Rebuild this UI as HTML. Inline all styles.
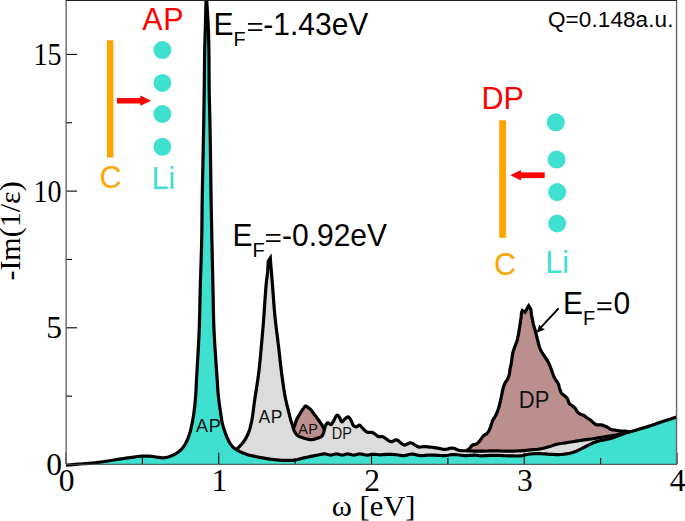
<!DOCTYPE html>
<html><head><meta charset="utf-8"><style>
html,body{margin:0;padding:0;background:#fff;}
svg{display:block;}
text{font-kerning:none;font-feature-settings:"kern" 0;}
.s{font-family:"Liberation Sans",sans-serif;}
.r{font-family:"Liberation Serif",serif;}
</style></head><body>
<svg width="685" height="521" viewBox="0 0 685 521">
<defs><clipPath id="cp"><rect x="66" y="0" width="611" height="467"/></clipPath><clipPath id="cf"><rect x="66" y="0" width="611" height="464.6"/></clipPath></defs>
<g clip-path="url(#cp)">
<path d="M280.00,452.00 L280.84,451.22 L281.68,450.49 L282.52,449.76 L283.35,448.98 L284.18,448.08 L285.00,447.00 L286.35,444.64 L287.75,441.61 L289.12,438.28 L290.41,435.00 L291.56,432.12 L292.50,430.00 L292.82,429.40 L293.10,428.94 L293.36,428.54 L293.60,428.15 L293.85,427.72 L294.10,427.20 L294.49,426.20 L294.85,425.05 L295.22,423.80 L295.60,422.50 L296.02,421.22 L296.50,420.00 L297.07,418.79 L297.71,417.57 L298.38,416.37 L299.07,415.19 L299.75,414.06 L300.40,413.00 L300.90,412.18 L301.39,411.40 L301.87,410.64 L302.34,409.92 L302.82,409.24 L303.30,408.60 L303.68,408.08 L304.05,407.54 L304.43,407.03 L304.80,406.59 L305.19,406.26 L305.60,406.10 L305.98,406.12 L306.38,406.27 L306.79,406.51 L307.20,406.81 L307.61,407.12 L308.00,407.40 L308.39,407.66 L308.76,407.91 L309.13,408.18 L309.51,408.47 L309.89,408.81 L310.30,409.20 L311.02,409.99 L311.78,410.94 L312.58,412.00 L313.40,413.11 L314.21,414.23 L315.00,415.30 L315.79,416.34 L316.58,417.39 L317.38,418.44 L318.15,419.49 L318.90,420.51 L319.60,421.50 L320.16,422.30 L320.69,423.08 L321.21,423.85 L321.70,424.60 L322.16,425.35 L322.60,426.10 L322.94,426.75 L323.23,427.37 L323.51,427.99 L323.79,428.62 L324.11,429.28 L324.50,430.00 L325.17,431.22 L325.90,432.58 L326.72,434.02 L327.65,435.45 L328.74,436.81 L330.00,438.00 L331.87,439.30 L333.96,440.40 L336.30,441.38 L338.91,442.27 L341.80,443.12 L345.00,444.00 L352.10,445.62 L360.65,447.12 L370.19,448.51 L380.23,449.78 L390.33,450.95 L400.00,452.00 L410.12,453.21 L420.99,454.59 L431.91,455.86 L442.18,456.71 L451.11,456.86 L458.00,456.00 L460.46,455.14 L462.61,453.99 L464.48,452.69 L466.07,451.37 L467.40,450.16 L468.50,449.20 L468.88,448.88 L469.19,448.59 L469.45,448.32 L469.68,448.06 L469.92,447.79 L470.20,447.50 L470.55,447.11 L470.90,446.68 L471.25,446.24 L471.63,445.82 L472.04,445.43 L472.50,445.10 L473.09,444.84 L473.75,444.68 L474.45,444.57 L475.17,444.45 L475.86,444.28 L476.50,444.00 L477.14,443.56 L477.75,443.04 L478.33,442.45 L478.89,441.81 L479.45,441.15 L480.00,440.50 L480.58,439.77 L481.12,438.97 L481.66,438.16 L482.21,437.35 L482.78,436.59 L483.40,435.90 L484.05,435.36 L484.75,434.91 L485.48,434.49 L486.21,434.07 L486.89,433.58 L487.50,433.00 L488.10,432.21 L488.63,431.32 L489.11,430.36 L489.55,429.35 L489.98,428.32 L490.40,427.30 L490.82,426.18 L491.19,425.00 L491.54,423.80 L491.89,422.61 L492.27,421.47 L492.70,420.40 L493.13,419.56 L493.59,418.79 L494.07,418.04 L494.56,417.30 L495.04,416.53 L495.50,415.70 L496.02,414.64 L496.54,413.52 L497.04,412.36 L497.53,411.17 L497.98,409.98 L498.40,408.80 L498.76,407.66 L499.09,406.51 L499.38,405.36 L499.66,404.21 L499.93,403.05 L500.20,401.90 L500.48,400.72 L500.75,399.50 L501.01,398.28 L501.26,397.10 L501.50,395.99 L501.70,395.00 L501.82,394.42 L501.91,393.90 L502.00,393.41 L502.09,392.93 L502.19,392.44 L502.30,391.90 L502.45,391.18 L502.61,390.43 L502.78,389.65 L502.97,388.86 L503.17,388.07 L503.40,387.30 L503.65,386.52 L503.92,385.73 L504.21,384.94 L504.52,384.17 L504.85,383.42 L505.20,382.70 L505.56,382.08 L505.95,381.51 L506.36,380.95 L506.76,380.39 L507.15,379.82 L507.50,379.20 L507.84,378.49 L508.16,377.75 L508.45,376.99 L508.73,376.21 L508.97,375.42 L509.20,374.60 L509.40,373.68 L509.56,372.72 L509.69,371.75 L509.81,370.76 L509.94,369.77 L510.10,368.80 L510.29,367.85 L510.49,366.90 L510.71,365.95 L510.92,365.00 L511.12,364.05 L511.30,363.10 L511.45,362.14 L511.59,361.17 L511.71,360.20 L511.83,359.23 L511.95,358.27 L512.10,357.30 L512.26,356.33 L512.41,355.36 L512.58,354.39 L512.76,353.42 L512.96,352.46 L513.20,351.50 L513.48,350.55 L513.80,349.61 L514.14,348.67 L514.49,347.73 L514.85,346.78 L515.20,345.80 L515.58,344.73 L515.98,343.65 L516.38,342.57 L516.77,341.44 L517.15,340.26 L517.50,339.00 L517.91,337.21 L518.29,335.26 L518.65,333.22 L518.98,331.15 L519.29,329.12 L519.60,327.20 L519.87,325.57 L520.12,323.96 L520.37,322.38 L520.60,320.85 L520.81,319.39 L521.00,318.00 L521.12,316.97 L521.21,315.95 L521.28,314.98 L521.36,314.06 L521.46,313.23 L521.60,312.50 L521.70,312.12 L521.81,311.79 L521.93,311.48 L522.06,311.19 L522.18,310.90 L522.30,310.60 L525.00,312.20 L528.70,305.80 L529.03,306.32 L529.37,306.81 L529.71,307.31 L530.04,307.83 L530.34,308.39 L530.60,309.00 L530.86,309.90 L531.04,310.87 L531.17,311.92 L531.29,313.01 L531.42,314.15 L531.60,315.30 L531.88,316.83 L532.20,318.48 L532.53,320.19 L532.89,321.89 L533.24,323.51 L533.60,325.00 L533.88,326.03 L534.15,326.97 L534.44,327.87 L534.72,328.76 L535.01,329.69 L535.30,330.70 L535.66,332.06 L536.01,333.51 L536.36,335.01 L536.73,336.54 L537.10,338.08 L537.50,339.60 L537.92,341.21 L538.33,342.86 L538.76,344.51 L539.22,346.15 L539.73,347.72 L540.30,349.20 L540.87,350.42 L541.50,351.58 L542.16,352.69 L542.84,353.77 L543.53,354.84 L544.20,355.90 L544.84,356.89 L545.49,357.85 L546.15,358.79 L546.80,359.73 L547.42,360.70 L548.00,361.70 L548.55,362.77 L549.06,363.88 L549.54,365.00 L550.00,366.14 L550.45,367.27 L550.90,368.40 L551.33,369.52 L551.73,370.65 L552.13,371.79 L552.51,372.91 L552.90,373.99 L553.30,375.00 L553.62,375.78 L553.94,376.52 L554.25,377.22 L554.58,377.92 L554.92,378.61 L555.30,379.30 L555.75,380.02 L556.26,380.73 L556.79,381.43 L557.31,382.13 L557.79,382.85 L558.20,383.60 L558.51,384.37 L558.76,385.16 L558.96,385.97 L559.15,386.78 L559.36,387.60 L559.60,388.40 L559.87,389.23 L560.14,390.09 L560.42,390.94 L560.73,391.76 L561.08,392.53 L561.50,393.20 L561.92,393.69 L562.38,394.10 L562.88,394.47 L563.40,394.83 L563.91,395.20 L564.40,395.60 L564.90,396.04 L565.42,396.49 L565.93,396.94 L566.42,397.42 L566.88,397.94 L567.30,398.50 L567.68,399.23 L567.98,400.06 L568.24,400.93 L568.50,401.80 L568.81,402.61 L569.20,403.30 L569.62,403.79 L570.08,404.22 L570.58,404.60 L571.09,404.96 L571.60,405.32 L572.10,405.70 L572.59,406.09 L573.08,406.46 L573.58,406.83 L574.07,407.21 L574.54,407.63 L575.00,408.10 L575.49,408.75 L575.95,409.49 L576.39,410.29 L576.83,411.07 L577.29,411.79 L577.80,412.40 L578.25,412.81 L578.72,413.17 L579.20,413.50 L579.70,413.79 L580.20,414.05 L580.70,414.30 L581.17,414.50 L581.65,414.65 L582.13,414.77 L582.62,414.91 L583.11,415.07 L583.60,415.30 L584.23,415.69 L584.87,416.17 L585.52,416.71 L586.17,417.25 L586.80,417.76 L587.40,418.20 L587.85,418.48 L588.29,418.73 L588.72,418.95 L589.15,419.18 L589.57,419.42 L590.00,419.70 L590.48,420.07 L590.95,420.47 L591.42,420.90 L591.90,421.34 L592.39,421.78 L592.90,422.20 L593.47,422.67 L594.06,423.17 L594.67,423.67 L595.29,424.13 L595.93,424.52 L596.60,424.80 L597.30,424.93 L598.03,424.94 L598.79,424.88 L599.54,424.80 L600.29,424.76 L601.00,424.80 L601.63,424.92 L602.25,425.07 L602.86,425.26 L603.45,425.46 L604.03,425.68 L604.60,425.90 L605.10,426.11 L605.59,426.32 L606.06,426.55 L606.53,426.79 L607.01,427.04 L607.50,427.30 L608.09,427.65 L608.68,428.04 L609.29,428.45 L609.91,428.85 L610.55,429.21 L611.20,429.50 L611.88,429.70 L612.58,429.84 L613.29,429.94 L614.01,430.02 L614.75,430.10 L615.50,430.20 L616.33,430.34 L617.18,430.48 L618.05,430.63 L618.93,430.77 L619.81,430.90 L620.70,431.00 L621.62,431.05 L622.53,431.05 L623.45,431.03 L624.40,431.03 L625.41,431.11 L626.50,431.30 L628.35,431.86 L630.31,432.66 L632.41,433.63 L634.70,434.72 L637.21,435.87 L640.00,437.00 L645.96,439.15 L653.03,441.55 L660.84,444.12 L669.01,446.77 L677.19,449.43 L685.00,452.00 L685.00,470 L280.00,470 Z" fill="#bc8f8f" stroke="none" clip-path="url(#cf)"/>
<path d="M280.00,452.00 L280.84,451.22 L281.68,450.49 L282.52,449.76 L283.35,448.98 L284.18,448.08 L285.00,447.00 L286.35,444.64 L287.75,441.61 L289.12,438.28 L290.41,435.00 L291.56,432.12 L292.50,430.00 L292.82,429.40 L293.10,428.94 L293.36,428.54 L293.60,428.15 L293.85,427.72 L294.10,427.20 L294.49,426.20 L294.85,425.05 L295.22,423.80 L295.60,422.50 L296.02,421.22 L296.50,420.00 L297.07,418.79 L297.71,417.57 L298.38,416.37 L299.07,415.19 L299.75,414.06 L300.40,413.00 L300.90,412.18 L301.39,411.40 L301.87,410.64 L302.34,409.92 L302.82,409.24 L303.30,408.60 L303.68,408.08 L304.05,407.54 L304.43,407.03 L304.80,406.59 L305.19,406.26 L305.60,406.10 L305.98,406.12 L306.38,406.27 L306.79,406.51 L307.20,406.81 L307.61,407.12 L308.00,407.40 L308.39,407.66 L308.76,407.91 L309.13,408.18 L309.51,408.47 L309.89,408.81 L310.30,409.20 L311.02,409.99 L311.78,410.94 L312.58,412.00 L313.40,413.11 L314.21,414.23 L315.00,415.30 L315.79,416.34 L316.58,417.39 L317.38,418.44 L318.15,419.49 L318.90,420.51 L319.60,421.50 L320.16,422.30 L320.69,423.08 L321.21,423.85 L321.70,424.60 L322.16,425.35 L322.60,426.10 L322.94,426.75 L323.23,427.37 L323.51,427.99 L323.79,428.62 L324.11,429.28 L324.50,430.00 L325.17,431.22 L325.90,432.58 L326.72,434.02 L327.65,435.45 L328.74,436.81 L330.00,438.00 L331.87,439.30 L333.96,440.40 L336.30,441.38 L338.91,442.27 L341.80,443.12 L345.00,444.00 L352.10,445.62 L360.65,447.12 L370.19,448.51 L380.23,449.78 L390.33,450.95 L400.00,452.00 L410.12,453.21 L420.99,454.59 L431.91,455.86 L442.18,456.71 L451.11,456.86 L458.00,456.00 L460.46,455.14 L462.61,453.99 L464.48,452.69 L466.07,451.37 L467.40,450.16 L468.50,449.20 L468.88,448.88 L469.19,448.59 L469.45,448.32 L469.68,448.06 L469.92,447.79 L470.20,447.50 L470.55,447.11 L470.90,446.68 L471.25,446.24 L471.63,445.82 L472.04,445.43 L472.50,445.10 L473.09,444.84 L473.75,444.68 L474.45,444.57 L475.17,444.45 L475.86,444.28 L476.50,444.00 L477.14,443.56 L477.75,443.04 L478.33,442.45 L478.89,441.81 L479.45,441.15 L480.00,440.50 L480.58,439.77 L481.12,438.97 L481.66,438.16 L482.21,437.35 L482.78,436.59 L483.40,435.90 L484.05,435.36 L484.75,434.91 L485.48,434.49 L486.21,434.07 L486.89,433.58 L487.50,433.00 L488.10,432.21 L488.63,431.32 L489.11,430.36 L489.55,429.35 L489.98,428.32 L490.40,427.30 L490.82,426.18 L491.19,425.00 L491.54,423.80 L491.89,422.61 L492.27,421.47 L492.70,420.40 L493.13,419.56 L493.59,418.79 L494.07,418.04 L494.56,417.30 L495.04,416.53 L495.50,415.70 L496.02,414.64 L496.54,413.52 L497.04,412.36 L497.53,411.17 L497.98,409.98 L498.40,408.80 L498.76,407.66 L499.09,406.51 L499.38,405.36 L499.66,404.21 L499.93,403.05 L500.20,401.90 L500.48,400.72 L500.75,399.50 L501.01,398.28 L501.26,397.10 L501.50,395.99 L501.70,395.00 L501.82,394.42 L501.91,393.90 L502.00,393.41 L502.09,392.93 L502.19,392.44 L502.30,391.90 L502.45,391.18 L502.61,390.43 L502.78,389.65 L502.97,388.86 L503.17,388.07 L503.40,387.30 L503.65,386.52 L503.92,385.73 L504.21,384.94 L504.52,384.17 L504.85,383.42 L505.20,382.70 L505.56,382.08 L505.95,381.51 L506.36,380.95 L506.76,380.39 L507.15,379.82 L507.50,379.20 L507.84,378.49 L508.16,377.75 L508.45,376.99 L508.73,376.21 L508.97,375.42 L509.20,374.60 L509.40,373.68 L509.56,372.72 L509.69,371.75 L509.81,370.76 L509.94,369.77 L510.10,368.80 L510.29,367.85 L510.49,366.90 L510.71,365.95 L510.92,365.00 L511.12,364.05 L511.30,363.10 L511.45,362.14 L511.59,361.17 L511.71,360.20 L511.83,359.23 L511.95,358.27 L512.10,357.30 L512.26,356.33 L512.41,355.36 L512.58,354.39 L512.76,353.42 L512.96,352.46 L513.20,351.50 L513.48,350.55 L513.80,349.61 L514.14,348.67 L514.49,347.73 L514.85,346.78 L515.20,345.80 L515.58,344.73 L515.98,343.65 L516.38,342.57 L516.77,341.44 L517.15,340.26 L517.50,339.00 L517.91,337.21 L518.29,335.26 L518.65,333.22 L518.98,331.15 L519.29,329.12 L519.60,327.20 L519.87,325.57 L520.12,323.96 L520.37,322.38 L520.60,320.85 L520.81,319.39 L521.00,318.00 L521.12,316.97 L521.21,315.95 L521.28,314.98 L521.36,314.06 L521.46,313.23 L521.60,312.50 L521.70,312.12 L521.81,311.79 L521.93,311.48 L522.06,311.19 L522.18,310.90 L522.30,310.60 L525.00,312.20 L528.70,305.80 L529.03,306.32 L529.37,306.81 L529.71,307.31 L530.04,307.83 L530.34,308.39 L530.60,309.00 L530.86,309.90 L531.04,310.87 L531.17,311.92 L531.29,313.01 L531.42,314.15 L531.60,315.30 L531.88,316.83 L532.20,318.48 L532.53,320.19 L532.89,321.89 L533.24,323.51 L533.60,325.00 L533.88,326.03 L534.15,326.97 L534.44,327.87 L534.72,328.76 L535.01,329.69 L535.30,330.70 L535.66,332.06 L536.01,333.51 L536.36,335.01 L536.73,336.54 L537.10,338.08 L537.50,339.60 L537.92,341.21 L538.33,342.86 L538.76,344.51 L539.22,346.15 L539.73,347.72 L540.30,349.20 L540.87,350.42 L541.50,351.58 L542.16,352.69 L542.84,353.77 L543.53,354.84 L544.20,355.90 L544.84,356.89 L545.49,357.85 L546.15,358.79 L546.80,359.73 L547.42,360.70 L548.00,361.70 L548.55,362.77 L549.06,363.88 L549.54,365.00 L550.00,366.14 L550.45,367.27 L550.90,368.40 L551.33,369.52 L551.73,370.65 L552.13,371.79 L552.51,372.91 L552.90,373.99 L553.30,375.00 L553.62,375.78 L553.94,376.52 L554.25,377.22 L554.58,377.92 L554.92,378.61 L555.30,379.30 L555.75,380.02 L556.26,380.73 L556.79,381.43 L557.31,382.13 L557.79,382.85 L558.20,383.60 L558.51,384.37 L558.76,385.16 L558.96,385.97 L559.15,386.78 L559.36,387.60 L559.60,388.40 L559.87,389.23 L560.14,390.09 L560.42,390.94 L560.73,391.76 L561.08,392.53 L561.50,393.20 L561.92,393.69 L562.38,394.10 L562.88,394.47 L563.40,394.83 L563.91,395.20 L564.40,395.60 L564.90,396.04 L565.42,396.49 L565.93,396.94 L566.42,397.42 L566.88,397.94 L567.30,398.50 L567.68,399.23 L567.98,400.06 L568.24,400.93 L568.50,401.80 L568.81,402.61 L569.20,403.30 L569.62,403.79 L570.08,404.22 L570.58,404.60 L571.09,404.96 L571.60,405.32 L572.10,405.70 L572.59,406.09 L573.08,406.46 L573.58,406.83 L574.07,407.21 L574.54,407.63 L575.00,408.10 L575.49,408.75 L575.95,409.49 L576.39,410.29 L576.83,411.07 L577.29,411.79 L577.80,412.40 L578.25,412.81 L578.72,413.17 L579.20,413.50 L579.70,413.79 L580.20,414.05 L580.70,414.30 L581.17,414.50 L581.65,414.65 L582.13,414.77 L582.62,414.91 L583.11,415.07 L583.60,415.30 L584.23,415.69 L584.87,416.17 L585.52,416.71 L586.17,417.25 L586.80,417.76 L587.40,418.20 L587.85,418.48 L588.29,418.73 L588.72,418.95 L589.15,419.18 L589.57,419.42 L590.00,419.70 L590.48,420.07 L590.95,420.47 L591.42,420.90 L591.90,421.34 L592.39,421.78 L592.90,422.20 L593.47,422.67 L594.06,423.17 L594.67,423.67 L595.29,424.13 L595.93,424.52 L596.60,424.80 L597.30,424.93 L598.03,424.94 L598.79,424.88 L599.54,424.80 L600.29,424.76 L601.00,424.80 L601.63,424.92 L602.25,425.07 L602.86,425.26 L603.45,425.46 L604.03,425.68 L604.60,425.90 L605.10,426.11 L605.59,426.32 L606.06,426.55 L606.53,426.79 L607.01,427.04 L607.50,427.30 L608.09,427.65 L608.68,428.04 L609.29,428.45 L609.91,428.85 L610.55,429.21 L611.20,429.50 L611.88,429.70 L612.58,429.84 L613.29,429.94 L614.01,430.02 L614.75,430.10 L615.50,430.20 L616.33,430.34 L617.18,430.48 L618.05,430.63 L618.93,430.77 L619.81,430.90 L620.70,431.00 L621.62,431.05 L622.53,431.05 L623.45,431.03 L624.40,431.03 L625.41,431.11 L626.50,431.30 L628.35,431.86 L630.31,432.66 L632.41,433.63 L634.70,434.72 L637.21,435.87 L640.00,437.00 L645.96,439.15 L653.03,441.55 L660.84,444.12 L669.01,446.77 L677.19,449.43 L685.00,452.00" fill="none" stroke="#000" stroke-width="3.2" stroke-linejoin="miter" stroke-miterlimit="6"/>
<path d="M222.00,458.00 L222.84,457.94 L223.68,457.91 L224.52,457.89 L225.36,457.83 L226.19,457.71 L227.00,457.50 L227.87,457.17 L228.73,456.75 L229.57,456.26 L230.41,455.71 L231.22,455.12 L232.00,454.50 L232.79,453.78 L233.54,452.99 L234.26,452.16 L234.97,451.28 L235.71,450.39 L236.50,449.50 L237.50,448.46 L238.57,447.39 L239.66,446.31 L240.76,445.19 L241.81,444.02 L242.80,442.80 L243.77,441.46 L244.71,440.07 L245.61,438.63 L246.46,437.14 L247.26,435.60 L248.00,434.00 L248.73,432.18 L249.38,430.31 L249.96,428.38 L250.49,426.36 L251.00,424.24 L251.50,422.00 L252.11,418.83 L252.64,415.43 L253.13,411.85 L253.60,408.15 L254.08,404.38 L254.60,400.60 L255.25,396.31 L255.94,391.89 L256.65,387.40 L257.34,382.85 L258.00,378.31 L258.60,373.80 L259.13,369.32 L259.61,364.84 L260.06,360.36 L260.48,355.87 L260.89,351.39 L261.30,346.90 L261.71,342.46 L262.10,338.07 L262.48,333.67 L262.86,329.23 L263.23,324.69 L263.60,320.00 L264.02,314.24 L264.44,308.04 L264.86,301.72 L265.28,295.58 L265.69,289.90 L266.10,285.00 L266.36,282.45 L266.63,280.16 L266.90,278.04 L267.16,276.02 L267.39,274.03 L267.60,272.00 L267.75,270.12 L267.88,268.27 L267.99,266.44 L268.09,264.63 L268.19,262.82 L268.30,261.00 L270.30,258.00 L270.48,260.34 L270.67,262.69 L270.85,265.03 L271.03,267.37 L271.21,269.70 L271.40,272.00 L271.58,274.13 L271.75,276.17 L271.93,278.20 L272.11,280.29 L272.30,282.53 L272.50,285.00 L272.82,289.28 L273.16,294.07 L273.52,299.20 L273.91,304.51 L274.33,309.83 L274.80,315.00 L275.34,320.16 L275.94,325.36 L276.58,330.58 L277.24,335.77 L277.89,340.93 L278.50,346.00 L279.05,350.76 L279.57,355.52 L280.10,360.23 L280.62,364.87 L281.15,369.40 L281.70,373.80 L282.21,377.62 L282.73,381.46 L283.26,385.22 L283.79,388.80 L284.31,392.09 L284.80,395.00 L285.09,396.56 L285.37,397.95 L285.64,399.24 L285.92,400.48 L286.20,401.71 L286.50,403.00 L286.82,404.35 L287.15,405.70 L287.48,407.05 L287.82,408.40 L288.16,409.75 L288.50,411.10 L288.83,412.46 L289.16,413.84 L289.48,415.21 L289.82,416.58 L290.15,417.91 L290.50,419.20 L290.82,420.32 L291.15,421.41 L291.49,422.49 L291.83,423.54 L292.17,424.58 L292.50,425.60 L292.79,426.54 L293.05,427.47 L293.31,428.38 L293.59,429.28 L293.92,430.15 L294.30,431.00 L294.73,431.82 L295.20,432.65 L295.70,433.45 L296.25,434.21 L296.85,434.90 L297.50,435.50 L298.20,435.99 L298.96,436.39 L299.76,436.73 L300.60,437.03 L301.45,437.31 L302.30,437.60 L303.23,437.92 L304.19,438.23 L305.17,438.52 L306.15,438.78 L307.10,439.01 L308.00,439.20 L308.68,439.33 L309.34,439.44 L309.97,439.54 L310.60,439.60 L311.24,439.62 L311.90,439.60 L312.68,439.51 L313.47,439.35 L314.28,439.15 L315.09,438.91 L315.90,438.66 L316.70,438.40 L317.54,438.15 L318.41,437.89 L319.28,437.61 L320.11,437.30 L320.86,436.94 L321.50,436.50 L321.94,436.07 L322.31,435.59 L322.63,435.07 L322.91,434.53 L323.16,433.97 L323.40,433.40 L323.62,432.79 L323.80,432.15 L323.95,431.49 L324.09,430.83 L324.23,430.16 L324.40,429.50 L324.58,428.82 L324.74,428.13 L324.92,427.44 L325.11,426.76 L325.33,426.11 L325.60,425.50 L325.88,424.95 L326.19,424.38 L326.52,423.83 L326.89,423.35 L327.28,422.99 L327.70,422.80 L328.19,422.87 L328.75,423.20 L329.33,423.66 L329.92,424.12 L330.48,424.44 L331.00,424.50 L331.51,424.23 L331.97,423.74 L332.41,423.07 L332.83,422.32 L333.25,421.54 L333.70,420.80 L334.26,419.82 L334.82,418.65 L335.39,417.44 L335.96,416.36 L336.53,415.56 L337.10,415.20 L337.51,415.26 L337.92,415.51 L338.33,415.91 L338.74,416.39 L339.13,416.90 L339.50,417.40 L339.91,418.12 L340.29,419.02 L340.64,419.97 L340.99,420.84 L341.37,421.50 L341.80,421.80 L342.21,421.73 L342.63,421.42 L343.08,420.95 L343.54,420.40 L344.02,419.86 L344.50,419.40 L345.04,418.92 L345.62,418.36 L346.21,417.81 L346.79,417.33 L347.36,417.00 L347.90,416.90 L348.37,417.03 L348.81,417.33 L349.25,417.75 L349.67,418.27 L350.08,418.83 L350.50,419.40 L351.08,420.39 L351.62,421.62 L352.15,422.95 L352.69,424.24 L353.26,425.34 L353.90,426.10 L354.32,426.39 L354.77,426.60 L355.23,426.75 L355.69,426.83 L356.15,426.84 L356.60,426.80 L357.06,426.62 L357.52,426.28 L357.97,425.87 L358.42,425.48 L358.86,425.19 L359.30,425.10 L359.75,425.24 L360.19,425.55 L360.61,425.98 L361.05,426.48 L361.51,427.00 L362.00,427.50 L362.72,428.23 L363.48,429.08 L364.28,429.97 L365.12,430.82 L365.99,431.56 L366.90,432.10 L367.79,432.36 L368.73,432.43 L369.71,432.39 L370.69,432.35 L371.66,432.39 L372.60,432.60 L373.60,433.09 L374.57,433.78 L375.53,434.56 L376.49,435.35 L377.44,436.03 L378.40,436.50 L379.19,436.69 L379.98,436.73 L380.76,436.70 L381.55,436.67 L382.36,436.71 L383.20,436.90 L384.42,437.51 L385.70,438.43 L387.02,439.48 L388.34,440.50 L389.65,441.30 L390.90,441.70 L391.90,441.62 L392.90,441.26 L393.89,440.75 L394.85,440.24 L395.76,439.87 L396.60,439.80 L397.23,439.99 L397.81,440.33 L398.35,440.76 L398.88,441.25 L399.42,441.75 L400.00,442.20 L400.67,442.72 L401.35,443.32 L402.04,443.92 L402.75,444.46 L403.51,444.88 L404.30,445.10 L405.28,445.00 L406.33,444.57 L407.43,443.98 L408.55,443.37 L409.68,442.93 L410.80,442.80 L412.05,443.13 L413.33,443.83 L414.61,444.72 L415.90,445.64 L417.16,446.42 L418.40,446.90 L419.37,447.03 L420.29,447.01 L421.20,446.90 L422.13,446.75 L423.12,446.63 L424.20,446.60 L425.93,446.68 L427.85,446.84 L429.88,447.04 L431.95,447.28 L433.98,447.54 L435.90,447.80 L437.53,448.08 L439.13,448.42 L440.70,448.78 L442.24,449.10 L443.74,449.33 L445.20,449.40 L446.43,449.27 L447.61,448.99 L448.77,448.63 L449.91,448.29 L451.05,448.05 L452.20,448.00 L453.37,448.20 L454.51,448.59 L455.66,449.08 L456.81,449.60 L457.99,450.07 L459.20,450.40 L460.49,450.59 L461.79,450.70 L463.11,450.74 L464.48,450.75 L465.90,450.76 L467.40,450.80 L469.51,450.88 L471.78,450.97 L474.15,451.06 L476.56,451.13 L478.96,451.18 L481.30,451.20 L483.51,451.17 L485.69,451.09 L487.87,451.00 L490.04,450.90 L492.22,450.83 L494.40,450.80 L496.60,450.83 L498.80,450.90 L501.00,451.00 L503.20,451.10 L505.40,451.17 L507.60,451.20 L509.81,451.19 L512.05,451.15 L514.29,451.09 L516.50,451.02 L518.65,450.92 L520.70,450.80 L522.34,450.68 L523.90,450.54 L525.42,450.39 L526.93,450.22 L528.44,450.06 L530.00,449.90 L531.67,449.75 L533.37,449.63 L535.08,449.50 L536.79,449.35 L538.50,449.16 L540.20,448.90 L541.94,448.56 L543.71,448.15 L545.47,447.70 L547.20,447.22 L548.85,446.75 L550.40,446.30 L551.51,445.96 L552.54,445.61 L553.52,445.26 L554.49,444.91 L555.51,444.59 L556.60,444.30 L558.02,443.99 L559.50,443.73 L561.05,443.49 L562.63,443.27 L564.22,443.04 L565.80,442.80 L567.47,442.53 L569.16,442.26 L570.87,442.00 L572.58,441.73 L574.29,441.46 L576.00,441.20 L577.70,440.94 L579.40,440.69 L581.10,440.44 L582.80,440.20 L584.50,439.95 L586.20,439.70 L587.90,439.45 L589.58,439.21 L591.27,438.96 L592.97,438.72 L594.68,438.46 L596.40,438.20 L598.25,437.91 L600.15,437.60 L602.06,437.29 L603.94,436.98 L605.77,436.68 L607.50,436.40 L608.84,436.19 L610.12,436.00 L611.37,435.81 L612.59,435.63 L613.79,435.42 L615.00,435.20 L616.16,434.95 L617.31,434.69 L618.44,434.41 L619.57,434.12 L620.69,433.85 L621.80,433.60 L622.82,433.36 L623.81,433.11 L624.79,432.88 L625.79,432.66 L626.85,432.50 L628.00,432.40 L629.74,432.36 L631.60,432.41 L633.58,432.54 L635.65,432.77 L637.80,433.09 L640.00,433.50 L643.03,434.26 L646.23,435.28 L649.55,436.45 L652.97,437.70 L656.47,438.91 L660.00,440.00 L663.99,441.07 L668.11,442.09 L672.31,443.08 L676.55,444.05 L680.80,445.01 L685.00,446.00 L685.00,470 L222.00,470 Z" fill="#dcdcdc" stroke="none" clip-path="url(#cf)"/>
<path d="M222.00,458.00 L222.84,457.94 L223.68,457.91 L224.52,457.89 L225.36,457.83 L226.19,457.71 L227.00,457.50 L227.87,457.17 L228.73,456.75 L229.57,456.26 L230.41,455.71 L231.22,455.12 L232.00,454.50 L232.79,453.78 L233.54,452.99 L234.26,452.16 L234.97,451.28 L235.71,450.39 L236.50,449.50 L237.50,448.46 L238.57,447.39 L239.66,446.31 L240.76,445.19 L241.81,444.02 L242.80,442.80 L243.77,441.46 L244.71,440.07 L245.61,438.63 L246.46,437.14 L247.26,435.60 L248.00,434.00 L248.73,432.18 L249.38,430.31 L249.96,428.38 L250.49,426.36 L251.00,424.24 L251.50,422.00 L252.11,418.83 L252.64,415.43 L253.13,411.85 L253.60,408.15 L254.08,404.38 L254.60,400.60 L255.25,396.31 L255.94,391.89 L256.65,387.40 L257.34,382.85 L258.00,378.31 L258.60,373.80 L259.13,369.32 L259.61,364.84 L260.06,360.36 L260.48,355.87 L260.89,351.39 L261.30,346.90 L261.71,342.46 L262.10,338.07 L262.48,333.67 L262.86,329.23 L263.23,324.69 L263.60,320.00 L264.02,314.24 L264.44,308.04 L264.86,301.72 L265.28,295.58 L265.69,289.90 L266.10,285.00 L266.36,282.45 L266.63,280.16 L266.90,278.04 L267.16,276.02 L267.39,274.03 L267.60,272.00 L267.75,270.12 L267.88,268.27 L267.99,266.44 L268.09,264.63 L268.19,262.82 L268.30,261.00 L270.30,258.00 L270.48,260.34 L270.67,262.69 L270.85,265.03 L271.03,267.37 L271.21,269.70 L271.40,272.00 L271.58,274.13 L271.75,276.17 L271.93,278.20 L272.11,280.29 L272.30,282.53 L272.50,285.00 L272.82,289.28 L273.16,294.07 L273.52,299.20 L273.91,304.51 L274.33,309.83 L274.80,315.00 L275.34,320.16 L275.94,325.36 L276.58,330.58 L277.24,335.77 L277.89,340.93 L278.50,346.00 L279.05,350.76 L279.57,355.52 L280.10,360.23 L280.62,364.87 L281.15,369.40 L281.70,373.80 L282.21,377.62 L282.73,381.46 L283.26,385.22 L283.79,388.80 L284.31,392.09 L284.80,395.00 L285.09,396.56 L285.37,397.95 L285.64,399.24 L285.92,400.48 L286.20,401.71 L286.50,403.00 L286.82,404.35 L287.15,405.70 L287.48,407.05 L287.82,408.40 L288.16,409.75 L288.50,411.10 L288.83,412.46 L289.16,413.84 L289.48,415.21 L289.82,416.58 L290.15,417.91 L290.50,419.20 L290.82,420.32 L291.15,421.41 L291.49,422.49 L291.83,423.54 L292.17,424.58 L292.50,425.60 L292.79,426.54 L293.05,427.47 L293.31,428.38 L293.59,429.28 L293.92,430.15 L294.30,431.00 L294.73,431.82 L295.20,432.65 L295.70,433.45 L296.25,434.21 L296.85,434.90 L297.50,435.50 L298.20,435.99 L298.96,436.39 L299.76,436.73 L300.60,437.03 L301.45,437.31 L302.30,437.60 L303.23,437.92 L304.19,438.23 L305.17,438.52 L306.15,438.78 L307.10,439.01 L308.00,439.20 L308.68,439.33 L309.34,439.44 L309.97,439.54 L310.60,439.60 L311.24,439.62 L311.90,439.60 L312.68,439.51 L313.47,439.35 L314.28,439.15 L315.09,438.91 L315.90,438.66 L316.70,438.40 L317.54,438.15 L318.41,437.89 L319.28,437.61 L320.11,437.30 L320.86,436.94 L321.50,436.50 L321.94,436.07 L322.31,435.59 L322.63,435.07 L322.91,434.53 L323.16,433.97 L323.40,433.40 L323.62,432.79 L323.80,432.15 L323.95,431.49 L324.09,430.83 L324.23,430.16 L324.40,429.50 L324.58,428.82 L324.74,428.13 L324.92,427.44 L325.11,426.76 L325.33,426.11 L325.60,425.50 L325.88,424.95 L326.19,424.38 L326.52,423.83 L326.89,423.35 L327.28,422.99 L327.70,422.80 L328.19,422.87 L328.75,423.20 L329.33,423.66 L329.92,424.12 L330.48,424.44 L331.00,424.50 L331.51,424.23 L331.97,423.74 L332.41,423.07 L332.83,422.32 L333.25,421.54 L333.70,420.80 L334.26,419.82 L334.82,418.65 L335.39,417.44 L335.96,416.36 L336.53,415.56 L337.10,415.20 L337.51,415.26 L337.92,415.51 L338.33,415.91 L338.74,416.39 L339.13,416.90 L339.50,417.40 L339.91,418.12 L340.29,419.02 L340.64,419.97 L340.99,420.84 L341.37,421.50 L341.80,421.80 L342.21,421.73 L342.63,421.42 L343.08,420.95 L343.54,420.40 L344.02,419.86 L344.50,419.40 L345.04,418.92 L345.62,418.36 L346.21,417.81 L346.79,417.33 L347.36,417.00 L347.90,416.90 L348.37,417.03 L348.81,417.33 L349.25,417.75 L349.67,418.27 L350.08,418.83 L350.50,419.40 L351.08,420.39 L351.62,421.62 L352.15,422.95 L352.69,424.24 L353.26,425.34 L353.90,426.10 L354.32,426.39 L354.77,426.60 L355.23,426.75 L355.69,426.83 L356.15,426.84 L356.60,426.80 L357.06,426.62 L357.52,426.28 L357.97,425.87 L358.42,425.48 L358.86,425.19 L359.30,425.10 L359.75,425.24 L360.19,425.55 L360.61,425.98 L361.05,426.48 L361.51,427.00 L362.00,427.50 L362.72,428.23 L363.48,429.08 L364.28,429.97 L365.12,430.82 L365.99,431.56 L366.90,432.10 L367.79,432.36 L368.73,432.43 L369.71,432.39 L370.69,432.35 L371.66,432.39 L372.60,432.60 L373.60,433.09 L374.57,433.78 L375.53,434.56 L376.49,435.35 L377.44,436.03 L378.40,436.50 L379.19,436.69 L379.98,436.73 L380.76,436.70 L381.55,436.67 L382.36,436.71 L383.20,436.90 L384.42,437.51 L385.70,438.43 L387.02,439.48 L388.34,440.50 L389.65,441.30 L390.90,441.70 L391.90,441.62 L392.90,441.26 L393.89,440.75 L394.85,440.24 L395.76,439.87 L396.60,439.80 L397.23,439.99 L397.81,440.33 L398.35,440.76 L398.88,441.25 L399.42,441.75 L400.00,442.20 L400.67,442.72 L401.35,443.32 L402.04,443.92 L402.75,444.46 L403.51,444.88 L404.30,445.10 L405.28,445.00 L406.33,444.57 L407.43,443.98 L408.55,443.37 L409.68,442.93 L410.80,442.80 L412.05,443.13 L413.33,443.83 L414.61,444.72 L415.90,445.64 L417.16,446.42 L418.40,446.90 L419.37,447.03 L420.29,447.01 L421.20,446.90 L422.13,446.75 L423.12,446.63 L424.20,446.60 L425.93,446.68 L427.85,446.84 L429.88,447.04 L431.95,447.28 L433.98,447.54 L435.90,447.80 L437.53,448.08 L439.13,448.42 L440.70,448.78 L442.24,449.10 L443.74,449.33 L445.20,449.40 L446.43,449.27 L447.61,448.99 L448.77,448.63 L449.91,448.29 L451.05,448.05 L452.20,448.00 L453.37,448.20 L454.51,448.59 L455.66,449.08 L456.81,449.60 L457.99,450.07 L459.20,450.40 L460.49,450.59 L461.79,450.70 L463.11,450.74 L464.48,450.75 L465.90,450.76 L467.40,450.80 L469.51,450.88 L471.78,450.97 L474.15,451.06 L476.56,451.13 L478.96,451.18 L481.30,451.20 L483.51,451.17 L485.69,451.09 L487.87,451.00 L490.04,450.90 L492.22,450.83 L494.40,450.80 L496.60,450.83 L498.80,450.90 L501.00,451.00 L503.20,451.10 L505.40,451.17 L507.60,451.20 L509.81,451.19 L512.05,451.15 L514.29,451.09 L516.50,451.02 L518.65,450.92 L520.70,450.80 L522.34,450.68 L523.90,450.54 L525.42,450.39 L526.93,450.22 L528.44,450.06 L530.00,449.90 L531.67,449.75 L533.37,449.63 L535.08,449.50 L536.79,449.35 L538.50,449.16 L540.20,448.90 L541.94,448.56 L543.71,448.15 L545.47,447.70 L547.20,447.22 L548.85,446.75 L550.40,446.30 L551.51,445.96 L552.54,445.61 L553.52,445.26 L554.49,444.91 L555.51,444.59 L556.60,444.30 L558.02,443.99 L559.50,443.73 L561.05,443.49 L562.63,443.27 L564.22,443.04 L565.80,442.80 L567.47,442.53 L569.16,442.26 L570.87,442.00 L572.58,441.73 L574.29,441.46 L576.00,441.20 L577.70,440.94 L579.40,440.69 L581.10,440.44 L582.80,440.20 L584.50,439.95 L586.20,439.70 L587.90,439.45 L589.58,439.21 L591.27,438.96 L592.97,438.72 L594.68,438.46 L596.40,438.20 L598.25,437.91 L600.15,437.60 L602.06,437.29 L603.94,436.98 L605.77,436.68 L607.50,436.40 L608.84,436.19 L610.12,436.00 L611.37,435.81 L612.59,435.63 L613.79,435.42 L615.00,435.20 L616.16,434.95 L617.31,434.69 L618.44,434.41 L619.57,434.12 L620.69,433.85 L621.80,433.60 L622.82,433.36 L623.81,433.11 L624.79,432.88 L625.79,432.66 L626.85,432.50 L628.00,432.40 L629.74,432.36 L631.60,432.41 L633.58,432.54 L635.65,432.77 L637.80,433.09 L640.00,433.50 L643.03,434.26 L646.23,435.28 L649.55,436.45 L652.97,437.70 L656.47,438.91 L660.00,440.00 L663.99,441.07 L668.11,442.09 L672.31,443.08 L676.55,444.05 L680.80,445.01 L685.00,446.00" fill="none" stroke="#000" stroke-width="3.2" stroke-linejoin="miter" stroke-miterlimit="10"/>
<path d="M66.00,465.20 L68.31,465.00 L70.60,464.81 L72.89,464.61 L75.20,464.41 L77.57,464.21 L80.00,464.00 L82.86,463.76 L85.82,463.53 L88.83,463.29 L91.89,463.03 L94.95,462.74 L98.00,462.40 L101.18,461.98 L104.43,461.50 L107.70,460.99 L110.92,460.46 L114.04,459.96 L117.00,459.50 L119.32,459.15 L121.54,458.82 L123.70,458.50 L125.81,458.18 L127.90,457.89 L130.00,457.60 L131.98,457.33 L133.96,457.05 L135.91,456.78 L137.84,456.53 L139.74,456.34 L141.60,456.20 L143.24,456.13 L144.86,456.10 L146.45,456.10 L148.01,456.14 L149.53,456.20 L151.00,456.30 L152.24,456.42 L153.45,456.59 L154.62,456.78 L155.77,456.97 L156.90,457.15 L158.00,457.30 L158.94,457.42 L159.87,457.54 L160.77,457.66 L161.66,457.75 L162.53,457.80 L163.40,457.80 L164.18,457.75 L164.95,457.66 L165.70,457.54 L166.45,457.39 L167.21,457.21 L168.00,457.00 L168.97,456.70 L170.00,456.35 L171.04,455.95 L172.06,455.53 L173.03,455.11 L173.90,454.70 L174.48,454.41 L175.01,454.14 L175.51,453.86 L175.99,453.56 L176.48,453.25 L177.00,452.90 L177.66,452.44 L178.35,451.95 L179.04,451.43 L179.74,450.87 L180.43,450.26 L181.10,449.60 L181.90,448.72 L182.71,447.76 L183.50,446.72 L184.27,445.63 L185.00,444.49 L185.70,443.30 L186.45,441.85 L187.17,440.29 L187.84,438.66 L188.47,436.99 L189.06,435.33 L189.60,433.70 L190.07,432.19 L190.48,430.71 L190.86,429.22 L191.21,427.71 L191.55,426.15 L191.90,424.50 L192.32,422.38 L192.74,420.14 L193.14,417.83 L193.52,415.47 L193.87,413.08 L194.20,410.70 L194.51,408.19 L194.80,405.63 L195.05,403.06 L195.29,400.47 L195.50,397.88 L195.70,395.30 L195.87,392.85 L196.00,390.52 L196.11,388.20 L196.22,385.75 L196.35,383.06 L196.50,380.00 L196.88,373.27 L197.34,365.26 L197.85,356.45 L198.36,347.32 L198.83,338.35 L199.20,330.00 L199.44,323.13 L199.62,316.50 L199.76,310.00 L199.89,303.50 L200.03,296.87 L200.20,290.00 L200.44,281.92 L200.71,273.54 L200.99,265.00 L201.26,256.46 L201.50,248.08 L201.70,240.00 L201.82,233.20 L201.91,226.75 L201.97,220.42 L202.03,213.99 L202.10,207.26 L202.20,200.00 L202.39,189.23 L202.63,177.39 L202.89,165.00 L203.15,152.61 L203.40,140.77 L203.60,130.00 L203.72,122.69 L203.83,115.84 L203.93,109.31 L204.02,102.92 L204.11,96.54 L204.20,90.00 L204.28,83.23 L204.36,76.32 L204.43,69.41 L204.51,62.64 L204.59,56.12 L204.70,50.00 L204.80,45.48 L204.92,41.19 L205.04,37.07 L205.16,33.04 L205.28,29.04 L205.40,25.00 L205.51,21.00 L205.61,16.91 L205.72,12.85 L205.82,8.93 L205.91,5.28 L206.00,2.00 L206.05,0.10 L206.11,-1.64 L206.15,-3.26 L206.20,-4.82 L206.25,-6.38 L206.30,-8.00 L206.38,-6.38 L206.45,-4.82 L206.53,-3.26 L206.61,-1.64 L206.70,0.10 L206.80,2.00 L207.00,5.28 L207.24,8.93 L207.50,12.85 L207.76,16.91 L208.00,21.00 L208.20,25.00 L208.37,29.04 L208.51,33.04 L208.62,37.07 L208.73,41.19 L208.82,45.48 L208.90,50.00 L208.98,56.12 L209.03,62.64 L209.05,69.42 L209.08,76.32 L209.12,83.23 L209.20,90.00 L209.32,96.54 L209.46,102.92 L209.62,109.31 L209.79,115.84 L209.95,122.69 L210.10,130.00 L210.28,140.77 L210.45,152.61 L210.61,165.00 L210.77,177.39 L210.93,189.23 L211.10,200.00 L211.23,207.26 L211.36,213.99 L211.49,220.42 L211.62,226.75 L211.76,233.20 L211.90,240.00 L212.07,248.08 L212.25,256.46 L212.44,265.00 L212.62,273.54 L212.81,281.92 L213.00,290.00 L213.15,296.87 L213.27,303.50 L213.39,310.00 L213.54,316.50 L213.73,323.13 L214.00,330.00 L214.42,338.35 L214.96,347.32 L215.56,356.45 L216.17,365.26 L216.73,373.27 L217.20,380.00 L217.40,383.06 L217.57,385.75 L217.72,388.20 L217.89,390.53 L218.07,392.85 L218.30,395.30 L218.58,397.88 L218.88,400.47 L219.22,403.05 L219.57,405.63 L219.93,408.18 L220.30,410.70 L220.64,413.08 L220.98,415.47 L221.34,417.84 L221.71,420.15 L222.13,422.38 L222.60,424.50 L223.04,426.16 L223.50,427.75 L224.00,429.29 L224.52,430.78 L225.05,432.24 L225.60,433.70 L226.12,435.07 L226.66,436.44 L227.21,437.78 L227.79,439.08 L228.38,440.33 L229.00,441.50 L229.54,442.44 L230.09,443.33 L230.66,444.19 L231.24,445.00 L231.86,445.77 L232.50,446.50 L233.11,447.13 L233.72,447.70 L234.36,448.24 L235.04,448.76 L235.78,449.27 L236.60,449.80 L237.96,450.58 L239.51,451.37 L241.18,452.15 L242.92,452.90 L244.64,453.59 L246.30,454.20 L247.76,454.67 L249.21,455.08 L250.66,455.44 L252.10,455.76 L253.55,456.08 L255.00,456.40 L256.46,456.73 L257.92,457.05 L259.39,457.36 L260.86,457.66 L262.33,457.94 L263.80,458.20 L265.26,458.44 L266.73,458.65 L268.20,458.86 L269.67,459.04 L271.13,459.22 L272.60,459.40 L274.05,459.58 L275.50,459.75 L276.95,459.92 L278.40,460.07 L279.85,460.20 L281.30,460.30 L282.77,460.37 L284.28,460.42 L285.78,460.44 L287.26,460.45 L288.67,460.43 L290.00,460.40 L290.95,460.37 L291.84,460.34 L292.69,460.29 L293.53,460.23 L294.39,460.13 L295.30,460.00 L296.41,459.78 L297.54,459.50 L298.69,459.18 L299.87,458.84 L301.07,458.51 L302.30,458.20 L303.72,457.88 L305.19,457.57 L306.70,457.27 L308.20,456.97 L309.68,456.68 L311.10,456.40 L312.31,456.15 L313.50,455.91 L314.66,455.67 L315.81,455.44 L316.95,455.22 L318.10,455.00 L319.22,454.77 L320.33,454.52 L321.44,454.28 L322.54,454.08 L323.63,453.94 L324.70,453.90 L325.69,454.00 L326.66,454.23 L327.62,454.51 L328.58,454.80 L329.53,455.01 L330.50,455.10 L331.48,455.01 L332.46,454.79 L333.45,454.50 L334.44,454.21 L335.42,453.99 L336.40,453.90 L337.37,453.99 L338.35,454.22 L339.32,454.51 L340.29,454.80 L341.25,455.02 L342.20,455.10 L343.08,455.01 L343.93,454.79 L344.78,454.51 L345.63,454.22 L346.50,454.00 L347.40,453.90 L348.44,453.97 L349.53,454.20 L350.63,454.49 L351.73,454.79 L352.83,455.02 L353.90,455.10 L354.88,455.01 L355.84,454.79 L356.79,454.51 L357.74,454.22 L358.70,454.00 L359.70,453.90 L360.83,453.97 L362.00,454.18 L363.18,454.47 L364.37,454.76 L365.55,454.99 L366.70,455.10 L367.76,455.06 L368.81,454.93 L369.85,454.74 L370.89,454.54 L371.93,454.38 L373.00,454.30 L374.14,454.31 L375.29,454.40 L376.45,454.52 L377.62,454.65 L378.80,454.75 L380.00,454.80 L381.31,454.77 L382.65,454.68 L384.00,454.56 L385.35,454.44 L386.69,454.35 L388.00,454.30 L389.18,454.30 L390.33,454.33 L391.47,454.37 L392.61,454.43 L393.78,454.51 L395.00,454.60 L396.49,454.76 L398.05,454.99 L399.65,455.24 L401.25,455.45 L402.81,455.59 L404.30,455.60 L405.53,455.45 L406.71,455.17 L407.85,454.82 L409.00,454.49 L410.17,454.22 L411.40,454.10 L412.87,454.18 L414.40,454.42 L415.97,454.77 L417.55,455.13 L419.13,455.43 L420.70,455.60 L422.22,455.61 L423.71,455.52 L425.20,455.37 L426.73,455.21 L428.32,455.07 L430.00,455.00 L432.37,455.04 L434.96,455.18 L437.66,455.35 L440.34,455.52 L442.90,455.62 L445.20,455.60 L446.70,455.47 L448.07,455.26 L449.37,455.02 L450.65,454.78 L451.98,454.59 L453.40,454.50 L455.23,454.55 L457.15,454.73 L459.13,454.99 L461.12,455.25 L463.09,455.48 L465.00,455.60 L466.74,455.60 L468.47,455.52 L470.19,455.40 L471.86,455.29 L473.48,455.21 L475.00,455.20 L476.11,455.26 L477.12,455.37 L478.10,455.50 L479.08,455.63 L480.13,455.74 L481.30,455.80 L483.21,455.80 L485.31,455.72 L487.55,455.59 L489.85,455.45 L492.16,455.34 L494.40,455.30 L496.60,455.33 L498.80,455.41 L501.00,455.52 L503.20,455.63 L505.40,455.73 L507.60,455.80 L509.81,455.86 L512.06,455.92 L514.30,455.97 L516.51,455.99 L518.65,455.94 L520.70,455.80 L522.34,455.58 L523.91,455.27 L525.42,454.91 L526.92,454.55 L528.44,454.23 L530.00,454.00 L531.67,453.85 L533.36,453.75 L535.07,453.69 L536.78,453.67 L538.49,453.68 L540.20,453.70 L541.90,453.75 L543.60,453.85 L545.30,453.97 L547.00,454.10 L548.70,454.21 L550.40,454.30 L552.10,454.38 L553.80,454.46 L555.50,454.53 L557.20,454.57 L558.90,454.57 L560.60,454.50 L562.34,454.37 L564.11,454.19 L565.88,453.96 L567.62,453.69 L569.31,453.37 L570.90,453.00 L572.17,452.65 L573.37,452.26 L574.53,451.84 L575.67,451.39 L576.82,450.91 L578.00,450.40 L579.35,449.79 L580.72,449.12 L582.11,448.41 L583.49,447.69 L584.86,446.98 L586.20,446.30 L587.43,445.68 L588.64,445.06 L589.83,444.45 L591.02,443.86 L592.21,443.31 L593.40,442.80 L594.51,442.37 L595.64,441.98 L596.76,441.61 L597.86,441.28 L598.95,440.97 L600.00,440.70 L600.86,440.51 L601.68,440.36 L602.49,440.23 L603.30,440.11 L604.13,439.97 L605.00,439.80 L606.10,439.55 L607.25,439.29 L608.43,438.99 L609.63,438.68 L610.82,438.35 L612.00,438.00 L613.20,437.61 L614.40,437.19 L615.60,436.75 L616.80,436.29 L618.00,435.84 L619.20,435.40 L620.41,434.96 L621.63,434.51 L622.84,434.06 L624.06,433.62 L625.28,433.20 L626.50,432.80 L627.72,432.43 L628.95,432.09 L630.18,431.77 L631.41,431.45 L632.62,431.13 L633.80,430.80 L634.85,430.49 L635.87,430.18 L636.87,429.87 L637.88,429.55 L638.92,429.23 L640.00,428.90 L641.30,428.51 L642.63,428.13 L644.00,427.73 L645.41,427.32 L646.87,426.88 L648.40,426.40 L650.47,425.72 L652.67,424.98 L654.96,424.19 L657.29,423.38 L659.62,422.57 L661.90,421.80 L664.21,421.03 L666.62,420.23 L669.03,419.44 L671.34,418.69 L673.46,418.00 L675.30,417.40 L676.22,417.10 L677.04,416.84 L677.80,416.60 L678.52,416.37 L679.24,416.14 L680.00,415.90 L680.00,470 L66.00,470 Z" fill="#40e0d0" stroke="none" clip-path="url(#cf)"/>
<path d="M66.00,465.20 L68.31,465.00 L70.60,464.81 L72.89,464.61 L75.20,464.41 L77.57,464.21 L80.00,464.00 L82.86,463.76 L85.82,463.53 L88.83,463.29 L91.89,463.03 L94.95,462.74 L98.00,462.40 L101.18,461.98 L104.43,461.50 L107.70,460.99 L110.92,460.46 L114.04,459.96 L117.00,459.50 L119.32,459.15 L121.54,458.82 L123.70,458.50 L125.81,458.18 L127.90,457.89 L130.00,457.60 L131.98,457.33 L133.96,457.05 L135.91,456.78 L137.84,456.53 L139.74,456.34 L141.60,456.20 L143.24,456.13 L144.86,456.10 L146.45,456.10 L148.01,456.14 L149.53,456.20 L151.00,456.30 L152.24,456.42 L153.45,456.59 L154.62,456.78 L155.77,456.97 L156.90,457.15 L158.00,457.30 L158.94,457.42 L159.87,457.54 L160.77,457.66 L161.66,457.75 L162.53,457.80 L163.40,457.80 L164.18,457.75 L164.95,457.66 L165.70,457.54 L166.45,457.39 L167.21,457.21 L168.00,457.00 L168.97,456.70 L170.00,456.35 L171.04,455.95 L172.06,455.53 L173.03,455.11 L173.90,454.70 L174.48,454.41 L175.01,454.14 L175.51,453.86 L175.99,453.56 L176.48,453.25 L177.00,452.90 L177.66,452.44 L178.35,451.95 L179.04,451.43 L179.74,450.87 L180.43,450.26 L181.10,449.60 L181.90,448.72 L182.71,447.76 L183.50,446.72 L184.27,445.63 L185.00,444.49 L185.70,443.30 L186.45,441.85 L187.17,440.29 L187.84,438.66 L188.47,436.99 L189.06,435.33 L189.60,433.70 L190.07,432.19 L190.48,430.71 L190.86,429.22 L191.21,427.71 L191.55,426.15 L191.90,424.50 L192.32,422.38 L192.74,420.14 L193.14,417.83 L193.52,415.47 L193.87,413.08 L194.20,410.70 L194.51,408.19 L194.80,405.63 L195.05,403.06 L195.29,400.47 L195.50,397.88 L195.70,395.30 L195.87,392.85 L196.00,390.52 L196.11,388.20 L196.22,385.75 L196.35,383.06 L196.50,380.00 L196.88,373.27 L197.34,365.26 L197.85,356.45 L198.36,347.32 L198.83,338.35 L199.20,330.00 L199.44,323.13 L199.62,316.50 L199.76,310.00 L199.89,303.50 L200.03,296.87 L200.20,290.00 L200.44,281.92 L200.71,273.54 L200.99,265.00 L201.26,256.46 L201.50,248.08 L201.70,240.00 L201.82,233.20 L201.91,226.75 L201.97,220.42 L202.03,213.99 L202.10,207.26 L202.20,200.00 L202.39,189.23 L202.63,177.39 L202.89,165.00 L203.15,152.61 L203.40,140.77 L203.60,130.00 L203.72,122.69 L203.83,115.84 L203.93,109.31 L204.02,102.92 L204.11,96.54 L204.20,90.00 L204.28,83.23 L204.36,76.32 L204.43,69.41 L204.51,62.64 L204.59,56.12 L204.70,50.00 L204.80,45.48 L204.92,41.19 L205.04,37.07 L205.16,33.04 L205.28,29.04 L205.40,25.00 L205.51,21.00 L205.61,16.91 L205.72,12.85 L205.82,8.93 L205.91,5.28 L206.00,2.00 L206.05,0.10 L206.11,-1.64 L206.15,-3.26 L206.20,-4.82 L206.25,-6.38 L206.30,-8.00 L206.38,-6.38 L206.45,-4.82 L206.53,-3.26 L206.61,-1.64 L206.70,0.10 L206.80,2.00 L207.00,5.28 L207.24,8.93 L207.50,12.85 L207.76,16.91 L208.00,21.00 L208.20,25.00 L208.37,29.04 L208.51,33.04 L208.62,37.07 L208.73,41.19 L208.82,45.48 L208.90,50.00 L208.98,56.12 L209.03,62.64 L209.05,69.42 L209.08,76.32 L209.12,83.23 L209.20,90.00 L209.32,96.54 L209.46,102.92 L209.62,109.31 L209.79,115.84 L209.95,122.69 L210.10,130.00 L210.28,140.77 L210.45,152.61 L210.61,165.00 L210.77,177.39 L210.93,189.23 L211.10,200.00 L211.23,207.26 L211.36,213.99 L211.49,220.42 L211.62,226.75 L211.76,233.20 L211.90,240.00 L212.07,248.08 L212.25,256.46 L212.44,265.00 L212.62,273.54 L212.81,281.92 L213.00,290.00 L213.15,296.87 L213.27,303.50 L213.39,310.00 L213.54,316.50 L213.73,323.13 L214.00,330.00 L214.42,338.35 L214.96,347.32 L215.56,356.45 L216.17,365.26 L216.73,373.27 L217.20,380.00 L217.40,383.06 L217.57,385.75 L217.72,388.20 L217.89,390.53 L218.07,392.85 L218.30,395.30 L218.58,397.88 L218.88,400.47 L219.22,403.05 L219.57,405.63 L219.93,408.18 L220.30,410.70 L220.64,413.08 L220.98,415.47 L221.34,417.84 L221.71,420.15 L222.13,422.38 L222.60,424.50 L223.04,426.16 L223.50,427.75 L224.00,429.29 L224.52,430.78 L225.05,432.24 L225.60,433.70 L226.12,435.07 L226.66,436.44 L227.21,437.78 L227.79,439.08 L228.38,440.33 L229.00,441.50 L229.54,442.44 L230.09,443.33 L230.66,444.19 L231.24,445.00 L231.86,445.77 L232.50,446.50 L233.11,447.13 L233.72,447.70 L234.36,448.24 L235.04,448.76 L235.78,449.27 L236.60,449.80 L237.96,450.58 L239.51,451.37 L241.18,452.15 L242.92,452.90 L244.64,453.59 L246.30,454.20 L247.76,454.67 L249.21,455.08 L250.66,455.44 L252.10,455.76 L253.55,456.08 L255.00,456.40 L256.46,456.73 L257.92,457.05 L259.39,457.36 L260.86,457.66 L262.33,457.94 L263.80,458.20 L265.26,458.44 L266.73,458.65 L268.20,458.86 L269.67,459.04 L271.13,459.22 L272.60,459.40 L274.05,459.58 L275.50,459.75 L276.95,459.92 L278.40,460.07 L279.85,460.20 L281.30,460.30 L282.77,460.37 L284.28,460.42 L285.78,460.44 L287.26,460.45 L288.67,460.43 L290.00,460.40 L290.95,460.37 L291.84,460.34 L292.69,460.29 L293.53,460.23 L294.39,460.13 L295.30,460.00 L296.41,459.78 L297.54,459.50 L298.69,459.18 L299.87,458.84 L301.07,458.51 L302.30,458.20 L303.72,457.88 L305.19,457.57 L306.70,457.27 L308.20,456.97 L309.68,456.68 L311.10,456.40 L312.31,456.15 L313.50,455.91 L314.66,455.67 L315.81,455.44 L316.95,455.22 L318.10,455.00 L319.22,454.77 L320.33,454.52 L321.44,454.28 L322.54,454.08 L323.63,453.94 L324.70,453.90 L325.69,454.00 L326.66,454.23 L327.62,454.51 L328.58,454.80 L329.53,455.01 L330.50,455.10 L331.48,455.01 L332.46,454.79 L333.45,454.50 L334.44,454.21 L335.42,453.99 L336.40,453.90 L337.37,453.99 L338.35,454.22 L339.32,454.51 L340.29,454.80 L341.25,455.02 L342.20,455.10 L343.08,455.01 L343.93,454.79 L344.78,454.51 L345.63,454.22 L346.50,454.00 L347.40,453.90 L348.44,453.97 L349.53,454.20 L350.63,454.49 L351.73,454.79 L352.83,455.02 L353.90,455.10 L354.88,455.01 L355.84,454.79 L356.79,454.51 L357.74,454.22 L358.70,454.00 L359.70,453.90 L360.83,453.97 L362.00,454.18 L363.18,454.47 L364.37,454.76 L365.55,454.99 L366.70,455.10 L367.76,455.06 L368.81,454.93 L369.85,454.74 L370.89,454.54 L371.93,454.38 L373.00,454.30 L374.14,454.31 L375.29,454.40 L376.45,454.52 L377.62,454.65 L378.80,454.75 L380.00,454.80 L381.31,454.77 L382.65,454.68 L384.00,454.56 L385.35,454.44 L386.69,454.35 L388.00,454.30 L389.18,454.30 L390.33,454.33 L391.47,454.37 L392.61,454.43 L393.78,454.51 L395.00,454.60 L396.49,454.76 L398.05,454.99 L399.65,455.24 L401.25,455.45 L402.81,455.59 L404.30,455.60 L405.53,455.45 L406.71,455.17 L407.85,454.82 L409.00,454.49 L410.17,454.22 L411.40,454.10 L412.87,454.18 L414.40,454.42 L415.97,454.77 L417.55,455.13 L419.13,455.43 L420.70,455.60 L422.22,455.61 L423.71,455.52 L425.20,455.37 L426.73,455.21 L428.32,455.07 L430.00,455.00 L432.37,455.04 L434.96,455.18 L437.66,455.35 L440.34,455.52 L442.90,455.62 L445.20,455.60 L446.70,455.47 L448.07,455.26 L449.37,455.02 L450.65,454.78 L451.98,454.59 L453.40,454.50 L455.23,454.55 L457.15,454.73 L459.13,454.99 L461.12,455.25 L463.09,455.48 L465.00,455.60 L466.74,455.60 L468.47,455.52 L470.19,455.40 L471.86,455.29 L473.48,455.21 L475.00,455.20 L476.11,455.26 L477.12,455.37 L478.10,455.50 L479.08,455.63 L480.13,455.74 L481.30,455.80 L483.21,455.80 L485.31,455.72 L487.55,455.59 L489.85,455.45 L492.16,455.34 L494.40,455.30 L496.60,455.33 L498.80,455.41 L501.00,455.52 L503.20,455.63 L505.40,455.73 L507.60,455.80 L509.81,455.86 L512.06,455.92 L514.30,455.97 L516.51,455.99 L518.65,455.94 L520.70,455.80 L522.34,455.58 L523.91,455.27 L525.42,454.91 L526.92,454.55 L528.44,454.23 L530.00,454.00 L531.67,453.85 L533.36,453.75 L535.07,453.69 L536.78,453.67 L538.49,453.68 L540.20,453.70 L541.90,453.75 L543.60,453.85 L545.30,453.97 L547.00,454.10 L548.70,454.21 L550.40,454.30 L552.10,454.38 L553.80,454.46 L555.50,454.53 L557.20,454.57 L558.90,454.57 L560.60,454.50 L562.34,454.37 L564.11,454.19 L565.88,453.96 L567.62,453.69 L569.31,453.37 L570.90,453.00 L572.17,452.65 L573.37,452.26 L574.53,451.84 L575.67,451.39 L576.82,450.91 L578.00,450.40 L579.35,449.79 L580.72,449.12 L582.11,448.41 L583.49,447.69 L584.86,446.98 L586.20,446.30 L587.43,445.68 L588.64,445.06 L589.83,444.45 L591.02,443.86 L592.21,443.31 L593.40,442.80 L594.51,442.37 L595.64,441.98 L596.76,441.61 L597.86,441.28 L598.95,440.97 L600.00,440.70 L600.86,440.51 L601.68,440.36 L602.49,440.23 L603.30,440.11 L604.13,439.97 L605.00,439.80 L606.10,439.55 L607.25,439.29 L608.43,438.99 L609.63,438.68 L610.82,438.35 L612.00,438.00 L613.20,437.61 L614.40,437.19 L615.60,436.75 L616.80,436.29 L618.00,435.84 L619.20,435.40 L620.41,434.96 L621.63,434.51 L622.84,434.06 L624.06,433.62 L625.28,433.20 L626.50,432.80 L627.72,432.43 L628.95,432.09 L630.18,431.77 L631.41,431.45 L632.62,431.13 L633.80,430.80 L634.85,430.49 L635.87,430.18 L636.87,429.87 L637.88,429.55 L638.92,429.23 L640.00,428.90 L641.30,428.51 L642.63,428.13 L644.00,427.73 L645.41,427.32 L646.87,426.88 L648.40,426.40 L650.47,425.72 L652.67,424.98 L654.96,424.19 L657.29,423.38 L659.62,422.57 L661.90,421.80 L664.21,421.03 L666.62,420.23 L669.03,419.44 L671.34,418.69 L673.46,418.00 L675.30,417.40 L676.22,417.10 L677.04,416.84 L677.80,416.60 L678.52,416.37 L679.24,416.14 L680.00,415.90" fill="none" stroke="#000" stroke-width="3.2" stroke-linejoin="miter" stroke-miterlimit="10"/>
</g>
<g stroke="#000" stroke-width="1.1" fill="none">
<line x1="66.00" y1="464" x2="66.00" y2="452.7" /><line x1="218.75" y1="464" x2="218.75" y2="452.7" /><line x1="371.50" y1="464" x2="371.50" y2="452.7" /><line x1="524.25" y1="464" x2="524.25" y2="452.7" /><line x1="677.00" y1="464" x2="677.00" y2="452.7" /><line x1="142.38" y1="464" x2="142.38" y2="458" /><line x1="295.12" y1="464" x2="295.12" y2="458" /><line x1="447.88" y1="464" x2="447.88" y2="458" /><line x1="600.62" y1="464" x2="600.62" y2="458" /><line x1="66" y1="464.50" x2="77" y2="464.50" /><line x1="66" y1="327.80" x2="77" y2="327.80" /><line x1="66" y1="191.10" x2="77" y2="191.10" /><line x1="66" y1="54.40" x2="77" y2="54.40" /><line x1="66" y1="396.15" x2="72" y2="396.15" /><line x1="66" y1="259.45" x2="72" y2="259.45" /><line x1="66" y1="122.75" x2="72" y2="122.75" />
</g>
<line x1="66.15" y1="0" x2="66.15" y2="464.5" stroke="#666" stroke-width="1.4"/>
<line x1="676.55" y1="0" x2="676.55" y2="464.5" stroke="#666" stroke-width="1.4"/>
<line x1="66" y1="0.45" x2="677" y2="0.45" stroke="#222" stroke-width="1.1"/>
<line x1="66" y1="464.3" x2="677" y2="464.3" stroke="#444" stroke-width="1.0"/>

<!-- in-plot labels -->
<g class="s" fill="#111">
<text class="s" transform="translate(196.1,431.8) scale(1,1.0)" font-size="18" letter-spacing="0.6">AP</text>
<text class="s" transform="translate(258.6,422.6) scale(1,1.03)" font-size="17.5" letter-spacing="0.5">AP</text>
<text class="s" transform="translate(298.3,433.6) scale(1,1.03)" font-size="14.5" letter-spacing="0.4">AP</text>
<text class="s" transform="translate(331.8,438.6) scale(1,1.12)" font-size="14.5">DP</text>
<text class="s" transform="translate(518.8,407.8) scale(1,1.05)" font-size="22">DP</text>
</g>

<!-- E_F labels -->
<g class="s" fill="#000">
<text class="s" transform="translate(213.5,34.6) scale(1,1.05)" font-size="30">E<tspan font-size="20" dy="11.1">F</tspan></text>
<rect x="247.9" y="22.95" width="14.40" height="1.9" rx="0.6"/><rect x="247.9" y="29.15" width="14.40" height="1.9" rx="0.6"/>
<text class="s" transform="translate(263.3,34.6) scale(1,1.05)" font-size="30">-1.43eV</text>
<text class="s" transform="translate(232.6,245.6) scale(1,1.05)" font-size="30">E<tspan font-size="20" dy="11.1">F</tspan></text>
<rect x="266.0" y="233.95" width="14.60" height="1.9" rx="0.6"/><rect x="266.0" y="240.15" width="14.60" height="1.9" rx="0.6"/>
<text class="s" transform="translate(282,245.6) scale(1,1.05)" font-size="30">-0.92eV</text>
<text class="s" transform="translate(563,313.8) scale(1,1.05)" font-size="30">E<tspan font-size="20" dy="11.1">F</tspan></text>
<rect x="597.1999999999999" y="302.15" width="14.30" height="1.9" rx="0.6"/><rect x="597.1999999999999" y="308.35" width="14.30" height="1.9" rx="0.6"/>
<text class="s" transform="translate(613.5,313.8) scale(1,1.05)" font-size="30">0</text>
<text class="s" transform="translate(548,27.3) scale(1,0.97)" font-size="22.5" letter-spacing="0.1">Q=0.148a.u.</text>
</g>
<!-- arrow E_F=0 -->
<line x1="558.6" y1="308.4" x2="539.5" y2="328.9" stroke="#000" stroke-width="2"/>
<polygon points="537.3,332.1 539.5,325.0 540.9,328.2 544.3,329.3" fill="#000" stroke="#000" stroke-width="0.8" stroke-linejoin="round"/>

<!-- AP diagram -->
<text class="s" transform="translate(142.3,29.8) scale(1,1.05)" font-size="30.5" fill="#ff0000" letter-spacing="0.6">AP</text>
<rect x="106.9" y="40.3" width="6.5" height="117.2" fill="#ffa500"/>
<circle cx="162.4" cy="50.1" r="9" fill="#40e0d0"/>
<circle cx="162.4" cy="82.9" r="9" fill="#40e0d0"/>
<circle cx="162.4" cy="114" r="9" fill="#40e0d0"/>
<circle cx="162.4" cy="146.8" r="9" fill="#40e0d0"/>
<rect x="117" y="98.1" width="24" height="5.4" fill="#ff0000"/>
<polygon points="140.3,95.4 151.1,100.7 140.3,105.8" fill="#ff0000"/>
<text class="s" transform="translate(99.5,188.2) scale(1,1.05)" font-size="30.5" fill="#ffa500">C</text>
<text class="s" transform="translate(151.5,188.7) scale(1,1.0)" font-size="30.5" fill="#40e0d0">Li</text>

<!-- DP diagram -->
<text class="s" transform="translate(481.5,108.8) scale(1,1.05)" font-size="30.5" fill="#ff0000">DP</text>
<rect x="499.2" y="120.3" width="6.9" height="117.5" fill="#ffa500"/>
<circle cx="555.8" cy="122.3" r="9" fill="#40e0d0"/>
<circle cx="556.6" cy="159.6" r="9" fill="#40e0d0"/>
<circle cx="557.2" cy="192.1" r="9" fill="#40e0d0"/>
<circle cx="557.2" cy="223.5" r="9" fill="#40e0d0"/>
<rect x="520" y="172.4" width="24.7" height="5.7" fill="#ff0000"/>
<polygon points="521,169.9 510.3,175.2 521,180.6" fill="#ff0000"/>
<text class="s" transform="translate(494,274.5) scale(1,1.05)" font-size="30.5" fill="#ffa500">C</text>
<text class="s" transform="translate(545.3,273.3) scale(1,1.0)" font-size="30.5" fill="#40e0d0">Li</text>

<!-- axis tick labels -->
<g class="r" fill="#000" font-size="31.5">
<text x="66.60" y="491.1" text-anchor="middle">0</text>
<text x="219.35" y="491.1" text-anchor="middle">1</text>
<text x="372.10" y="491.1" text-anchor="middle">2</text>
<text x="524.85" y="491.1" text-anchor="middle">3</text>
<text x="677.60" y="491.1" text-anchor="middle">4</text>
<text x="62" y="475.2" text-anchor="end">0</text>
<text x="62" y="338.3" text-anchor="end">5</text>
<text transform="translate(61.6,201.6) scale(0.89,1)" text-anchor="end">10</text>
<text transform="translate(61.6,65.2) scale(0.89,1)" text-anchor="end">15</text>
<text transform="translate(373.6,515.8) scale(1,0.95)" font-size="30.5" text-anchor="middle">ω [eV]</text>
<text transform="translate(20,231) rotate(-90)" font-size="30" text-anchor="middle">-Im(1/ε)</text>
</g>
</svg>
</body></html>
